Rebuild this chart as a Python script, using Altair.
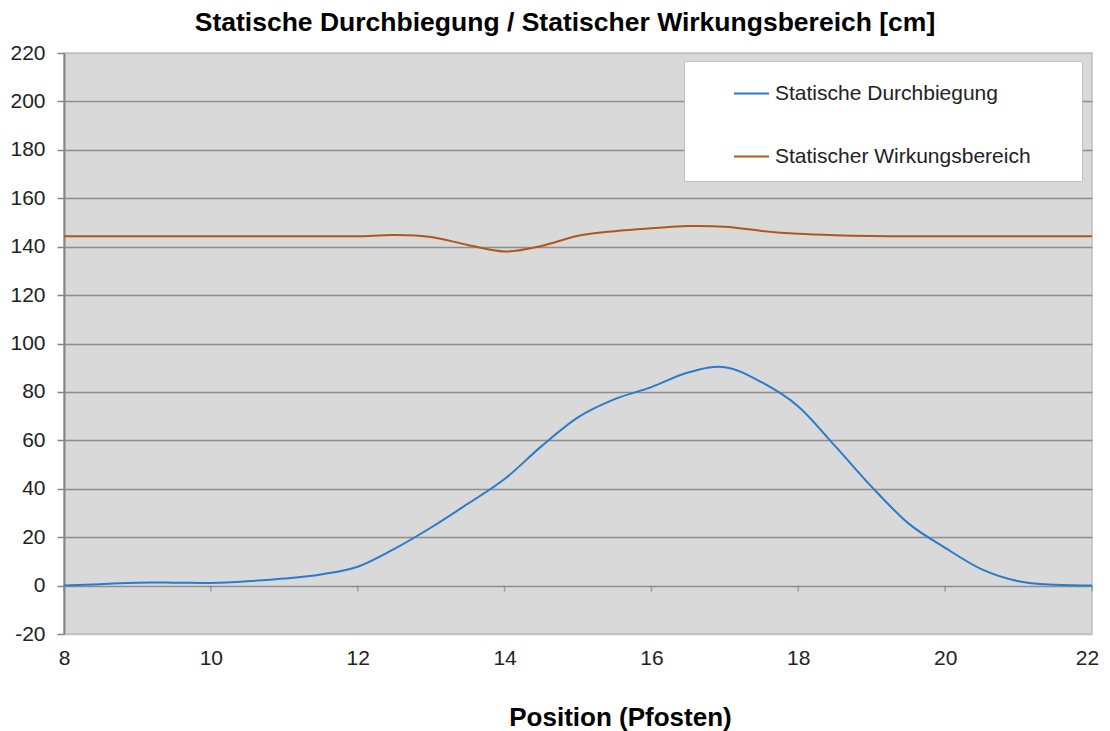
import altair as alt
import pandas as pd

# Data
positions = [8, 8.5, 9, 9.5, 10, 10.5, 11, 11.5, 12, 12.5, 13, 13.5, 14, 14.5, 15,
             15.5, 16, 16.5, 17, 17.5, 18, 18.5, 19, 19.5, 20, 20.5, 21, 21.5, 22]
durchbiegung = [0, 0.6, 1.2, 1.2, 1.1, 1.8, 2.9, 4.6, 7.8, 15.2, 24, 33.8, 44, 57.5, 69.5,
                77, 82, 88, 90.2, 84, 74, 57.7, 40.8, 25.7, 15.6, 6.7, 1.8, 0.3, 0]
wirkungsbereich = [144.3, 144.3, 144.3, 144.3, 144.3, 144.3, 144.3, 144.3, 144.3, 144.8, 144.0,
                   140.7, 138.0, 140.3, 144.5, 146.4, 147.6, 148.5, 148.2, 146.5, 145.3, 144.7,
                   144.4, 144.3, 144.3, 144.3, 144.3, 144.3, 144.3]
series_names = ["Statische Durchbiegung", "Statischer Wirkungsbereich"]
series_colors = ["#2A7BC9", "#B0561C"]
x_ticks = [8, 10, 12, 14, 16, 18, 20, 22]
y_ticks = list(range(-20, 221, 20))

df = pd.DataFrame({
    "Position": positions * 2,
    "Wert": durchbiegung + wirkungsbereich,
    "Serie": [series_names[0]] * len(positions) + [series_names[1]] * len(positions),
})
ticks_df = pd.DataFrame({"Position": x_ticks, "Null": [0] * len(x_ticks)})

FONT = "Liberation Sans"

x_scale = alt.Scale(domain=[8, 22], nice=False, zero=False)
y_scale = alt.Scale(domain=[-20, 220], nice=False)

lines = alt.Chart(df).mark_line(interpolate="cardinal", strokeWidth=2).encode(
    x=alt.X("Position:Q", scale=x_scale,
            axis=alt.Axis(values=x_ticks, title="Position (Pfosten)", domain=False, ticks=False,
                          grid=False, labelPadding=13, labelFontSize=21, labelColor="#222222",
                          labelFont=FONT, labelFlush=False, labelExpr="'' + datum.value",
                          labelOffset={"condition": {"test": "datum.value === 22", "value": -5},
                                       "value": 0},
                          titleFont=FONT, titleFontSize=26, titleFontWeight="bold",
                          titleColor="#000000", titleX=556, titleY=70, titleBaseline="top")),
    y=alt.Y("Wert:Q", scale=y_scale,
            axis=alt.Axis(values=y_ticks, title=None, domain=True, domainColor="#868686",
                          domainWidth=2, ticks=True, tickSize=7, tickColor="#868686",
                          tickWidth=1.5, grid=True,
                          gridColor={"condition": {"test": "datum.value === 220 || datum.value === -20",
                                                   "value": "#c0c0c0"},
                                     "value": "#8e8e8e"},
                          gridWidth=1.5,
                          labelPadding=12, labelFontSize=21, labelColor="#222222",
                          labelFont=FONT, labelExpr="'' + datum.value")),
    color=alt.Color("Serie:N",
                    scale=alt.Scale(domain=series_names, range=series_colors),
                    legend=alt.Legend(title="\u00a0", titleOrient="right", titlePadding=37,
                                      orient="none", legendX=620, legendY=8,
                                      padding=14, symbolOffset=35, symbolType="stroke",
                                      symbolSize=1225, symbolStrokeWidth=2, labelOffset=5,
                                      labelFontSize=21, labelFont=FONT, labelColor="#222222",
                                      labelLimit=500, rowPadding=34, fillColor="#ffffff",
                                      strokeColor="#c0c0c0", cornerRadius=0)),
)

zero_ticks = alt.Chart(ticks_df).mark_tick(orient="vertical", size=6, yOffset=3,
                                           color="#868686", thickness=1.5).encode(
    x=alt.X("Position:Q", scale=x_scale),
    y=alt.Y("Null:Q", scale=y_scale),
)

chart = alt.layer(zero_ticks, lines).properties(
    width=1028,
    height=581,
    autosize=alt.AutoSizeParams(type="none"),
    padding={"left": 56, "top": 45, "right": 10, "bottom": 97},
    background="#ffffff",
    title=alt.TitleParams("Statische Durchbiegung / Statischer Wirkungsbereich [cm]",
                          font=FONT, fontSize=26.5, fontWeight="bold", color="#000000",
                          anchor="middle", dx=-13, offset=6),
).configure_view(
    fill="#d9d9d9", stroke="#c0c0c0", strokeWidth=1.5
)

chart.save("out.html", embed_options={"renderer": "svg", "actions": False})
